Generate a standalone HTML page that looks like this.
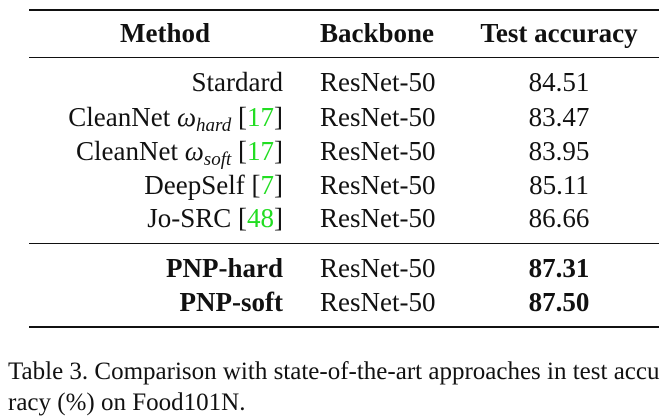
<!DOCTYPE html>
<html><head><meta charset="utf-8"><style>
body{margin:0;width:669px;height:413px;background:#fff;overflow:hidden;position:relative;font-family:"Liberation Serif",serif;color:#111}
.r{position:absolute;left:29px;width:630px;background:#111}
.t{position:absolute;font-size:27px;line-height:30px;white-space:nowrap}
.m{right:386px;text-align:right}
.b{left:320px}
.v{left:459px;width:200px;text-align:center}
.vb{font-weight:bold}
.g{color:#22dd22}
sub{font-size:19px;font-style:italic;vertical-align:-5px;line-height:0}
.cap{position:absolute;left:8px;font-size:25px;line-height:30px;white-space:nowrap}
</style></head><body>
<div class="r" style="top:9px;height:2px"></div>
<div class="t" style="left:65px;width:200px;text-align:center;top:18px;font-weight:bold">Method</div>
<div class="t" style="left:320px;top:18px;font-weight:bold">Backbone</div>
<div class="t" style="left:459px;width:200px;text-align:center;top:18px;font-weight:bold">Test accuracy</div>
<div class="r" style="top:57px;height:1px"></div>

<div class="t m" style="top:67px">Stardard</div>
<div class="t b" style="top:67px">ResNet-50</div>
<div class="t v" style="top:67px">84.51</div>

<div class="t m" style="top:102px">CleanNet <i>ω</i><sub>hard</sub> [<span class="g">17</span>]</div>
<div class="t b" style="top:102px">ResNet-50</div>
<div class="t v" style="top:102px">83.47</div>

<div class="t m" style="top:136px">CleanNet <i>ω</i><sub>soft</sub> [<span class="g">17</span>]</div>
<div class="t b" style="top:136px">ResNet-50</div>
<div class="t v" style="top:136px">83.95</div>

<div class="t m" style="top:170px">DeepSelf [<span class="g">7</span>]</div>
<div class="t b" style="top:170px">ResNet-50</div>
<div class="t v" style="top:170px">85.11</div>

<div class="t m" style="top:203px">Jo-SRC [<span class="g">48</span>]</div>
<div class="t b" style="top:203px">ResNet-50</div>
<div class="t v" style="top:203px">86.66</div>

<div class="r" style="top:243px;height:1px"></div>

<div class="t m" style="top:253px;font-weight:bold">PNP-hard</div>
<div class="t b" style="top:253px">ResNet-50</div>
<div class="t v vb" style="top:253px">87.31</div>

<div class="t m" style="top:287px;font-weight:bold">PNP-soft</div>
<div class="t b" style="top:287px">ResNet-50</div>
<div class="t v vb" style="top:287px">87.50</div>

<div class="r" style="top:326px;height:2px"></div>

<div class="cap" style="top:357px">Table 3. Comparison with state-of-the-art approaches in test accu</div>
<div class="cap" style="top:388px">racy (%) on Food101N.</div>
</body></html>
